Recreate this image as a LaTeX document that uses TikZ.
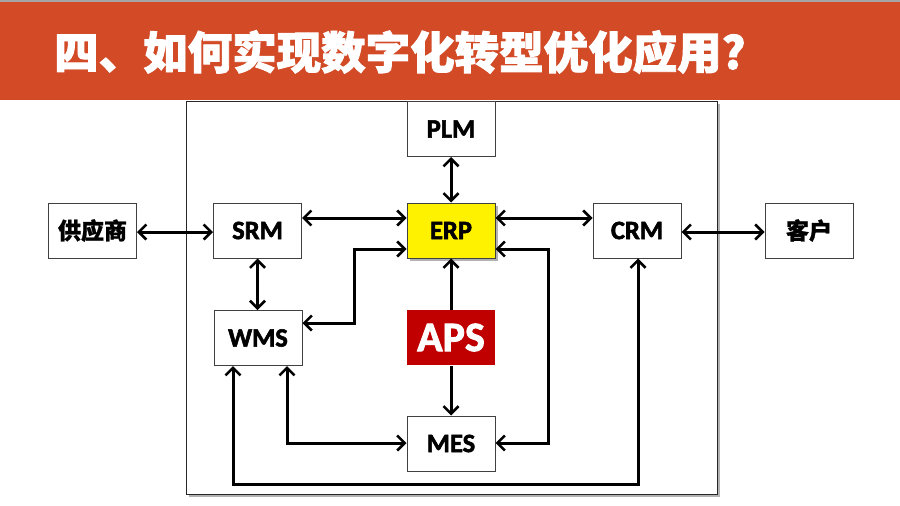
\documentclass[tikz,border=0pt]{standalone}
\usepackage{fontspec}
\usetikzlibrary{arrows.meta}
\setmainfont{Carlito}[BoldFont={Carlito Bold}, BoldFeatures={FakeBold=2}]
\newfontfamily\cjk{Noto Sans CJK SC}[BoldFeatures={FakeBold=1.2}]
\newfontfamily\cjkheavy{Noto Sans CJK SC}[BoldFeatures={FakeBold=2.0}]
\definecolor{barred}{HTML}{D24A26}
\definecolor{apsred}{HTML}{C00000}
\definecolor{boxline}{HTML}{404040}
\tikzset{
  box/.style={draw=boxline, line width=1pt, fill=white, minimum width=88pt, minimum height=55pt, inner sep=0pt, font=\fontsize{26.5}{26.5}\selectfont\bfseries},
  cjkbox/.style={box, font=\fontsize{23}{23}\selectfont\cjk\bfseries},
  arr/.style={line width=3pt, {Straight Barb[length=7.5pt,width=15pt,line width=2.6pt]}-{Straight Barb[length=7.5pt,width=15pt,line width=2.6pt]}},
  arrone/.style={line width=3pt, -{Straight Barb[length=7.5pt,width=15pt,line width=2.6pt]}}
}
\begin{document}
\begin{tikzpicture}[x=1pt,y=-1pt]
\useasboundingbox (0,0) rectangle (900,506);
\fill[white] (0,0) rectangle (900,506);
% title bar
\fill[barred] (0,0) rectangle (900,100);
\fill[gray!70] (0,0) rectangle (900,1.5);
\node[anchor=west, text=white, inner sep=0pt, font=\fontsize{44.5}{44.5}\selectfont\cjkheavy\bfseries] (title) at (54,52) {四、如何实现数字化转型优化应用?};
% frame
\fill[gray!60] (189,104) rectangle (720,497);
\draw[fill=white, draw=black!85, line width=1pt] (186,101) rectangle (717,494);
% nodes
\node[box] (plm) at (451,129) {PLM};
\node[cjkbox] (sup) at (92.5,230.5) {供应商};
\node[box] (srm) at (257.5,230.5) {SRM};
\fill[gray!60] (410,206) rectangle (498,261);
\node[box, fill=yellow] (erp) at (451,230.5) {ERP};
\node[box] (crm) at (637,230.5) {CRM};
\node[cjkbox] (kh) at (809,230.5) {客户};
\node[box] (wms) at (258,338) {WMS};
\node[box, draw=none, fill=apsred, text=white, font=\fontsize{42}{42}\selectfont\bfseries] (aps) at (451,337.5) {APS};
\node[box] (mes) at (451,443.5) {MES};
% connectors
\draw[arr] (plm) -- (erp);
\draw[arr] (sup.east |- 0,232) -- (srm.west |- 0,232);
\draw[arr] (srm.east |- 0,218) -- (erp.west |- 0,218);
\draw[arr] (erp.east |- 0,218) -- (crm.west |- 0,218);
\draw[arr] (crm.east |- 0,232) -- (kh.west |- 0,232);
\draw[arr] (srm.south) -- (srm.south |- wms.north);
\draw[arr] (wms.east |- 0,323) -- (354,323) |- (erp.west |- 0,249);
\draw[arrone] (aps.north) -- (erp.south);
\draw[arrone] (aps.south) -- (mes.north);
\draw[arr] (mes.east |- 0,443) -- (548,443) |- (erp.east |- 0,249);
\draw[arr] (wms.south -| 287,0) |- (mes.west |- 0,443);
\draw[arr] (wms.south -| 233,0) |- (638,484) -- (crm.south -| 638,0);
\end{tikzpicture}
\end{document}
